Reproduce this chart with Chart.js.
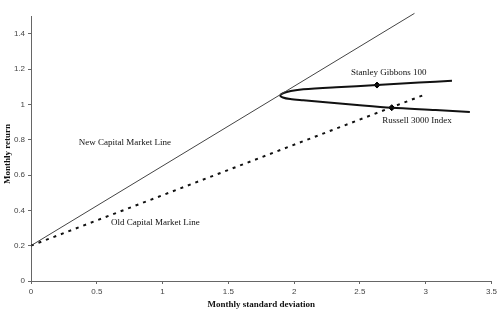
<!DOCTYPE html>
<html><head><meta charset="utf-8">
<script src="https://cdn.jsdelivr.net/npm/chart.js@4/dist/chart.umd.min.js"></script>
<style>html,body{margin:0;padding:0;background:#fff;}#wrap{width:500px;height:311px;position:relative;}</style>
</head><body><div id="wrap"><canvas id="c"></canvas></div>
<script>
// Data
const newCML = [{x:0,y:0.2},{x:2.915,y:1.515}];
const oldCML = [{x:0,y:0.2},{x:3.0,y:1.057}];
const frontier = [
  {x:3.2,y:1.133},{x:2.95,y:1.123},{x:2.63,y:1.109},{x:2.32,y:1.097},{x:2.07,y:1.085},
  {x:1.975,y:1.075},{x:1.92,y:1.064},{x:1.895,y:1.051},{x:1.915,y:1.039},{x:1.97,y:1.030},
  {x:2.07,y:1.023},{x:2.24,y:1.012},{x:2.5,y:0.995},{x:2.742,y:0.981},{x:3.076,y:0.968},{x:3.336,y:0.957}
];
const stanleyGibbons = [{x:2.63,y:1.109}];
const russell3000 = [{x:2.742,y:0.981}];
const xTicks = [0,0.5,1,1.5,2,2.5,3,3.5];
const yTicks = [0,0.2,0.4,0.6,0.8,1,1.2,1.4];
const labels = [
  {text:'Stanley Gibbons 100', x:2.72, y:1.181},
  {text:'Russell 3000 Index', x:2.935, y:0.907},
  {text:'New Capital Market Line', x:0.714, y:0.781},
  {text:'Old Capital Market Line', x:0.945, y:0.331}
];

const serif = '"Liberation Serif","Times New Roman",serif';
const sans = '"Liberation Sans",Arial,sans-serif';

const textPlugin = {
  id:'texts',
  afterDraw(chart){
    const ctx = chart.ctx, xs = chart.scales.x, ys = chart.scales.y;
    ctx.save();
    ctx.fillStyle = '#111';
    ctx.font = '9px ' + serif;
    ctx.textAlign = 'center';
    ctx.textBaseline = 'middle';
    labels.forEach(l => ctx.fillText(l.text, xs.getPixelForValue(l.x), ys.getPixelForValue(l.y)));
    ctx.font = 'bold 9px ' + serif;
    ctx.fillText('Monthly standard deviation', (xs.left + xs.right)/2, 305);
    ctx.translate(8, 154);
    ctx.rotate(-Math.PI/2);
    ctx.fillText('Monthly return', 0, 0);
    ctx.restore();
  }
};

new Chart(document.getElementById('c'), {
  type:'scatter',
  data:{datasets:[
    {data:newCML, showLine:true, borderColor:'#444', borderWidth:1, pointRadius:0, clip:false},
    {data:oldCML, showLine:true, borderColor:'#111', borderWidth:2, borderDash:[3,5], pointRadius:0},
    {data:frontier, showLine:true, borderColor:'#111', borderWidth:2, pointRadius:0, tension:0.3},
    {data:stanleyGibbons, pointStyle:'rectRot', pointRadius:3, backgroundColor:'#000', borderColor:'#000'},
    {data:russell3000, pointStyle:'rectRot', pointRadius:3, backgroundColor:'#000', borderColor:'#000'}
  ]},
  options:{
    responsive:true, maintainAspectRatio:false, animation:false,
    layout:{padding:{left:0,right:7,top:16,bottom:0}},
    plugins:{legend:{display:false}, tooltip:{enabled:false}},
    scales:{
      x:{type:'linear', min:0, max:3.5,
        afterBuildTicks(s){ s.ticks = xTicks.map(v=>({value:v})); },
        afterFit(s){ s.height = 30; },
        ticks:{callback:v=>String(v), font:{family:sans,size:8}, color:'#444', padding:3, maxRotation:0},
        grid:{drawOnChartArea:false, tickLength:3, color:'#666'},
        border:{color:'#666', width:1}
      },
      y:{type:'linear', min:0, max:1.5,
        afterBuildTicks(s){ s.ticks = yTicks.map(v=>({value:v})); },
        afterFit(s){ s.width = 31; },
        ticks:{callback:v=>String(Math.round(v*10)/10), font:{family:sans,size:8}, color:'#444', padding:3},
        grid:{drawOnChartArea:false, tickLength:3, color:'#666'},
        border:{color:'#666', width:1}
      }
    }
  },
  plugins:[textPlugin]
});
</script></body></html>
